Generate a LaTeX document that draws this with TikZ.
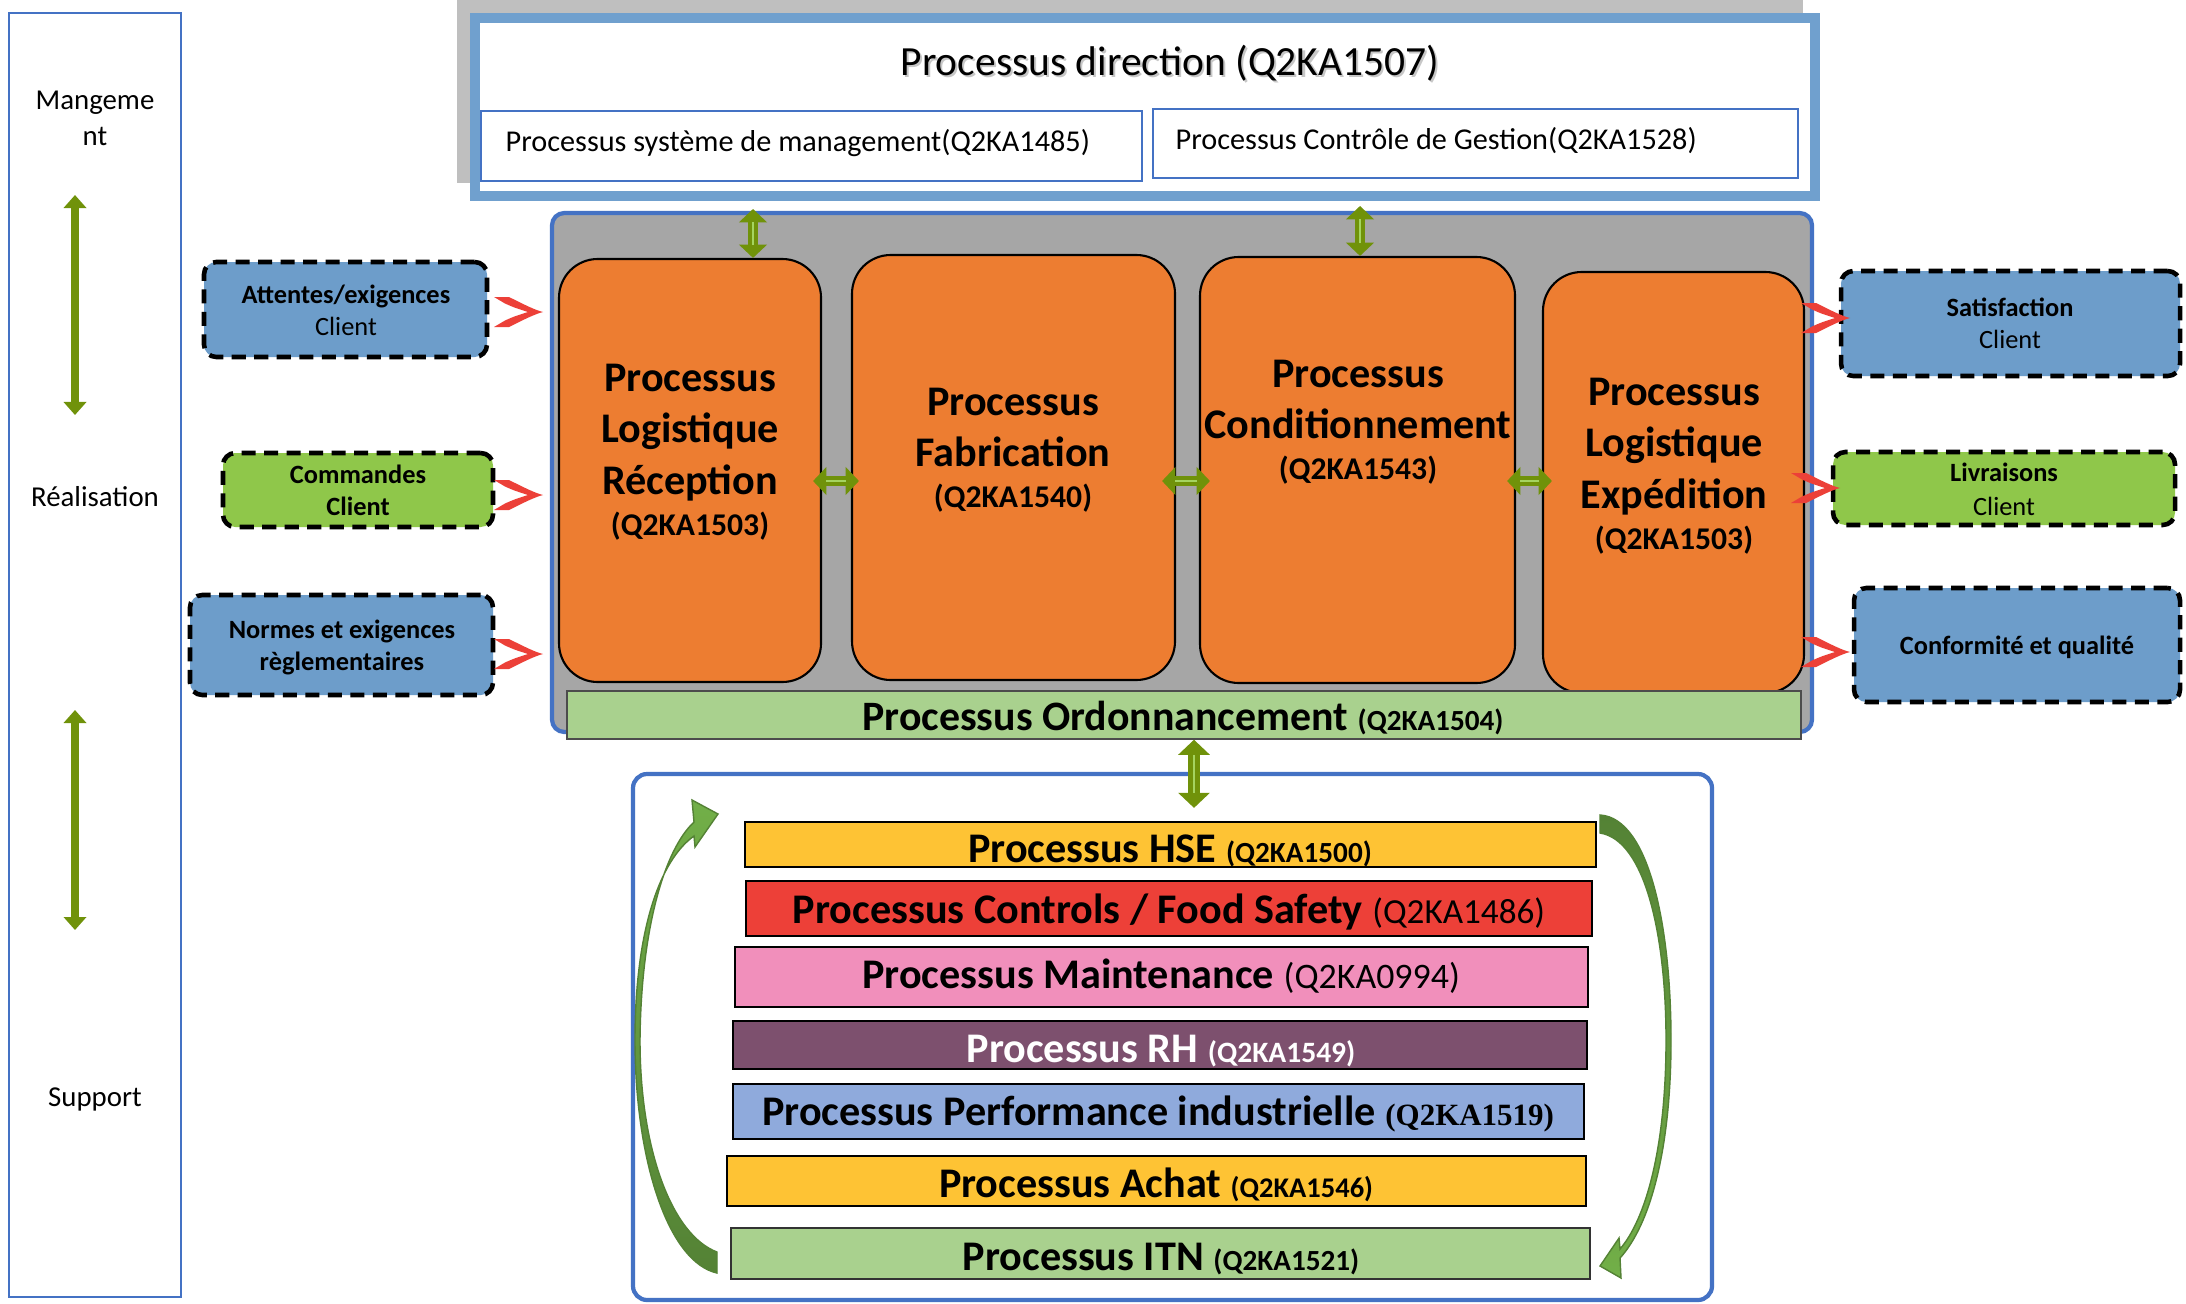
\documentclass[tikz,border=0pt]{standalone}
\usepackage{fontspec}
\setmainfont{Carlito}
\newfontfamily\serifbold{Liberation Serif}[BoldFont={Liberation Serif Bold}]
\usetikzlibrary{arrows.meta,calc,fit}

\definecolor{bordblue}{RGB}{68,114,196}
\definecolor{dirblue}{RGB}{112,160,206}
\definecolor{boxblue}{RGB}{109,157,202}
\definecolor{boxgreen}{RGB}{143,199,74}
\definecolor{procorange}{RGB}{237,125,49}
\definecolor{blockgray}{RGB}{166,166,166}
\definecolor{shadegray}{RGB}{191,191,191}
\definecolor{lightgreen}{RGB}{169,209,142}
\definecolor{baryellow}{RGB}{254,195,52}
\definecolor{barred}{RGB}{237,64,56}
\definecolor{barpink}{RGB}{241,143,187}
\definecolor{barpurple}{RGB}{125,80,110}
\definecolor{barblue}{RGB}{143,170,220}
\definecolor{olivearrow}{RGB}{112,146,10}
\definecolor{arrowline}{RGB}{165,212,95}
\definecolor{chevred}{RGB}{236,64,56}
\definecolor{curvelight}{RGB}{114,175,72}
\definecolor{curvedark}{RGB}{84,130,53}

\tikzset{
  lanetext/.style={inner sep=0, anchor=base, font=\fontsize{8.2}{10}\selectfont},
  subbox/.style={draw=bordblue, line width=0.7pt, fill=white, inner sep=0},
  proc/.style={fill=procorange, draw=black, line width=0.6pt, rounded corners=11pt, inner sep=0},
  proctext/.style={inner sep=0, anchor=base, font=\fontsize{12}{14}\selectfont\bfseries},
  proccode/.style={inner sep=0, anchor=base, font=\fontsize{9}{11}\selectfont\bfseries},
  dashbox/.style={draw=black, line width=1.3pt, dash pattern=on 4pt off 2.4pt, rounded corners=3.5pt, inner sep=0},
  sidetext/.style={inner sep=0, anchor=base, font=\fontsize{7.5}{9}\selectfont},
  sidebold/.style={sidetext, font=\fontsize{7.5}{9}\selectfont\bfseries},
  suppbar/.style={draw=black, line width=0.8pt, inner sep=0},
  bartext/.style={inner sep=0, anchor=base, font=\fontsize{12}{14}\selectfont\bfseries},
  dblarrow/.style={draw=olivearrow, line width=3pt,
    {Triangle[width=7.8pt,length=3.8pt]}-{Triangle[width=7.8pt,length=3.8pt]},
    postaction={draw=arrowline, line width=0.45pt, -, shorten <=3.8pt, shorten >=3.8pt}},
  bigdbl/.style={draw=olivearrow, line width=3.3pt,
    {Triangle[width=8.8pt,length=4.3pt]}-{Triangle[width=8.8pt,length=4.3pt]},
    postaction={draw=arrowline, line width=0.45pt, -, shorten <=4.3pt, shorten >=4.3pt}},
  lanearrow/.style={draw=olivearrow, line width=2pt,
    {Triangle[width=6.3pt,length=3.7pt]}-{Triangle[width=6.3pt,length=3.7pt]}},
  chev/.pic={
    \fill[chevred] (-49,-15) -- (-34,-15) .. controls (-18,-7) and (-8,-2) .. (0,0)
      .. controls (-8,2) and (-18,7) .. (-34,15) -- (-49,15) -- (-38,8.5)
      .. controls (-29,4.5) .. (-15,0) .. controls (-29,-4.5) .. (-38,-8.5) -- cycle;
  }
}

\begin{document}
\begin{tikzpicture}[x=0.01cm, y=-0.01cm]
\fill[white] (0,0) rectangle (2186,1303);
\useasboundingbox (0,0) rectangle (2186,1303);

% ---- left lane: management / realisation / support ----
\node[fit={(9,13)(181,1297)}, draw=bordblue, line width=0.75pt, inner sep=0] (lane) {};
\node[lanetext] (lmg1) at (95,109) {Mangeme};
\node[lanetext] (lmg2) at (95,145) {nt};
\node[lanetext] (lrea) at (95,506) {Réalisation};
\node[lanetext] (lsup) at (95,1106) {Support};
\coordinate (la1) at (75,195);
\coordinate (la2) at (75,415);
\coordinate (la3) at (75,710);
\coordinate (la4) at (75,930);
\draw[lanearrow] (la1) -- (la2);
\draw[lanearrow] (la3) -- (la4);

% ---- direction ----
\node[fit={(457,0)(1803,183)}, fill=shadegray, inner sep=0] (dirshade) {};
\node[fit={(475,18)(1815,196)}, draw=dirblue, line width=2.6pt, fill=white, inner sep=0] (dir) {};
\node[inner sep=0, anchor=base, text=black!22, font=\fontsize{11.8}{14}\selectfont] (dirtitleshade) at (1172,77) {Processus direction (Q2KA1507)};
\node[inner sep=0, anchor=base, font=\fontsize{11.8}{14}\selectfont] (dirtitle) at (1170,75) {Processus direction (Q2KA1507)};
\node[subbox, fit={(481,111)(1142,181)}] (sm) {};
\node[subbox, fit={(1153,109)(1798,178)}] (cg) {};
\node[inner sep=0, anchor=base west, font=\fontsize{8.6}{10}\selectfont] (smtext) at (505,151) {Processus système de management(Q2KA1485)};
\node[inner sep=0, anchor=base west, font=\fontsize{8.6}{10}\selectfont] (cgtext) at (1175,149) {Processus Contrôle de Gestion(Q2KA1528)};

% ---- realisation block ----
\node[fit={(552,213)(1812,732)}, fill=blockgray, draw=bordblue, line width=1.2pt, rounded corners=3.5pt, inner sep=0] (real) {};
\node[proc, fit={(559,259)(821,682)}] (r1) {};
\node[proc, fit={(852,255)(1175,680)}] (r2) {};
\node[proc, fit={(1200,257)(1515,683)}] (r3) {};
\node[proc, fit={(1543,272)(1804,693)}] (r4) {};

\node[proctext] (r1a) at (690,391) {Processus};
\node[proctext] (r1b) at (690,442) {Logistique};
\node[proctext] (r1c) at (690,494) {Réception};
\node[proccode] (r1d) at (690,535) {(Q2KA1503)};

\node[proctext] (r2a) at (1013,415) {Processus};
\node[proctext] (r2b) at (1013,466) {Fabrication};
\node[proccode] (r2c) at (1013,507) {(Q2KA1540)};

\node[proctext] (r3a) at (1358,387) {Processus};
\node[proctext] (r3b) at (1358,438) {Conditionnement};
\node[proccode] (r3c) at (1358,479) {(Q2KA1543)};

\node[proctext] (r4a) at (1674,405) {Processus};
\node[proctext] (r4b) at (1674,456) {Logistique};
\node[proctext] (r4c) at (1674,508) {Expédition};
\node[proccode] (r4d) at (1674,549) {(Q2KA1503)};

\node[fit={(567,691)(1801,739)}, fill=lightgreen, draw=black!70, line width=0.4pt, inner sep=0] (ord) {};
\node[bartext, font=\fontsize{11.9}{14}\selectfont\bfseries] (ordtext) at (1183,730)
  {Processus Ordonnancement {\fontsize{8.3}{10}\selectfont (Q2KA1504)}};

% links inside the realisation block
\coordinate (v1) at (753,209);
\coordinate (v2) at (1360,206);
\draw[dblarrow] (v1) -- (v1 |- r1.north);
\draw[dblarrow] (v2) -- (v2 |- r3.north);
\coordinate (hy) at (0,481);
\draw[dblarrow] ($(r1.east |- hy)+(-9,0)$) -- ($(r2.west |- hy)+(8,0)$);
\draw[dblarrow] ($(r2.east |- hy)+(-14,0)$) -- ($(r3.west |- hy)+(11,0)$);
\draw[dblarrow] ($(r3.east |- hy)+(-9,0)$) -- ($(r4.west |- hy)+(10,0)$);

% ---- inputs ----
\node[dashbox, fill=boxblue, fit={(204,262)(487,357)}] (att) {};
\node[sidebold] (atta) at (346,303) {Attentes/exigences};
\node[sidetext] (attb) at (346,335) {Client};
\node[dashbox, fill=boxgreen, fit={(223,453)(493,527)}] (cmd) {};
\node[sidebold] (cmda) at (358,483) {Commandes};
\node[sidebold] (cmdb) at (358,515) {Client};
\node[dashbox, fill=boxblue, fit={(190,595)(493,695)}] (nrm) {};
\node[sidebold] (nrma) at (342,638) {Normes et exigences};
\node[sidebold] (nrmb) at (342,670) {règlementaires};

% ---- outputs ----
\node[dashbox, fill=boxblue, fit={(1841,271)(2180,376)}] (sat) {};
\node[sidebold] (sata) at (2010,316) {Satisfaction};
\node[sidetext] (satb) at (2010,348) {Client};
\node[dashbox, fill=boxgreen, fit={(1833,452)(2175,525)}] (liv) {};
\node[sidebold] (liva) at (2004,481) {Livraisons};
\node[sidetext] (livb) at (2004,515) {Client};
\node[dashbox, fill=boxblue, fit={(1854,588)(2180,702)}] (cnf) {};
\node[sidebold] (cnfa) at (2017,654) {Conformité et qualité};

% red links: inputs -> block -> outputs
\coordinate (ci1) at (543,312);
\coordinate (ci2) at (543,495);
\coordinate (ci3) at (543,654);
\coordinate (co1) at (1850,318);
\coordinate (co2) at (1840,488);
\coordinate (co3) at (1850,652);
\foreach \c in {ci1,ci2,ci3,co1,co2,co3} { \pic at (\c) {chev}; }

% ---- support processes ----
\node[fit={(633,774)(1712,1300)}, draw=bordblue, line width=1.2pt, rounded corners=4pt, fill=white, inner sep=0] (sup) {};
\coordinate (ov) at (1194,0);
\draw[bigdbl] (ov |- ord.south) -- ($(ov |- sup.north)+(0,36)$);

\node[suppbar, fill=baryellow, fit={(745,822)(1596,867)}] (hse) {};
\node[suppbar, fill=barred, fit={(746,881)(1592,936)}] (ctl) {};
\node[suppbar, fill=barpink, fit={(735,947)(1588,1007)}] (mnt) {};
\node[suppbar, fill=barpurple, fit={(733,1021)(1587,1069)}] (rh) {};
\node[suppbar, fill=barblue, fit={(733,1084)(1584,1139)}] (prf) {};
\node[suppbar, fill=baryellow, fit={(727,1156)(1586,1206)}] (ach) {};
\node[suppbar, fill=lightgreen, draw=black!80, line width=0.5pt, fit={(731,1228)(1590,1279)}] (itn) {};

\node[bartext] (hset) at (1170,862) {Processus HSE {\fontsize{8.3}{10}\selectfont (Q2KA1500)}};
\node[bartext] (ctlt) at (1169,923) {Processus Controls / Food Safety {\fontsize{10}{12}\selectfont\mdseries (Q2KA1486)}};
\node[bartext] (mntt) at (1161,988) {Processus Maintenance {\fontsize{10.2}{12}\selectfont\mdseries (Q2KA0994)}};
\node[bartext, text=white] (rht) at (1161,1062) {Processus RH {\fontsize{8.4}{10}\selectfont (Q2KA1549)}};
\node[bartext] (prft) at (1158,1125) {Processus Performance industrielle {\serifbold\bfseries\fontsize{8.8}{10}\selectfont (Q2KA1519)}};
\node[bartext] (acht) at (1156,1197) {Processus Achat {\fontsize{8.1}{10}\selectfont (Q2KA1546)}};
\node[bartext] (itnt) at (1161,1270) {Processus ITN {\fontsize{8.3}{10}\selectfont (Q2KA1521)}};

% curved cycle arrows around the support bars
\draw[draw=curvedark, line width=0.4pt, top color=curvelight, bottom color=curvedark]
  (717,1273) .. controls (668,1262) and (635,1160) .. (635,1040)
  .. controls (635,930) and (660,860) .. (694,836) -- (695,847) -- (718,814) -- (692,800) -- (694,822)
  .. controls (664,850) and (641,930) .. (640,1040)
  .. controls (640,1150) and (672,1235) .. (717,1252) -- cycle;
\draw[draw=curvedark, line width=0.4pt, top color=curvedark, bottom color=curvelight]
  (1600,815) .. controls (1650,818) and (1671,930) .. (1671,1040)
  .. controls (1671,1150) and (1650,1225) .. (1620,1258) -- (1621,1278) -- (1600,1266) -- (1619,1238) -- (1620,1249)
  .. controls (1645,1220) and (1666,1150) .. (1666,1040)
  .. controls (1666,935) and (1645,840) .. (1600,833) -- cycle;
\end{tikzpicture}
\end{document}
